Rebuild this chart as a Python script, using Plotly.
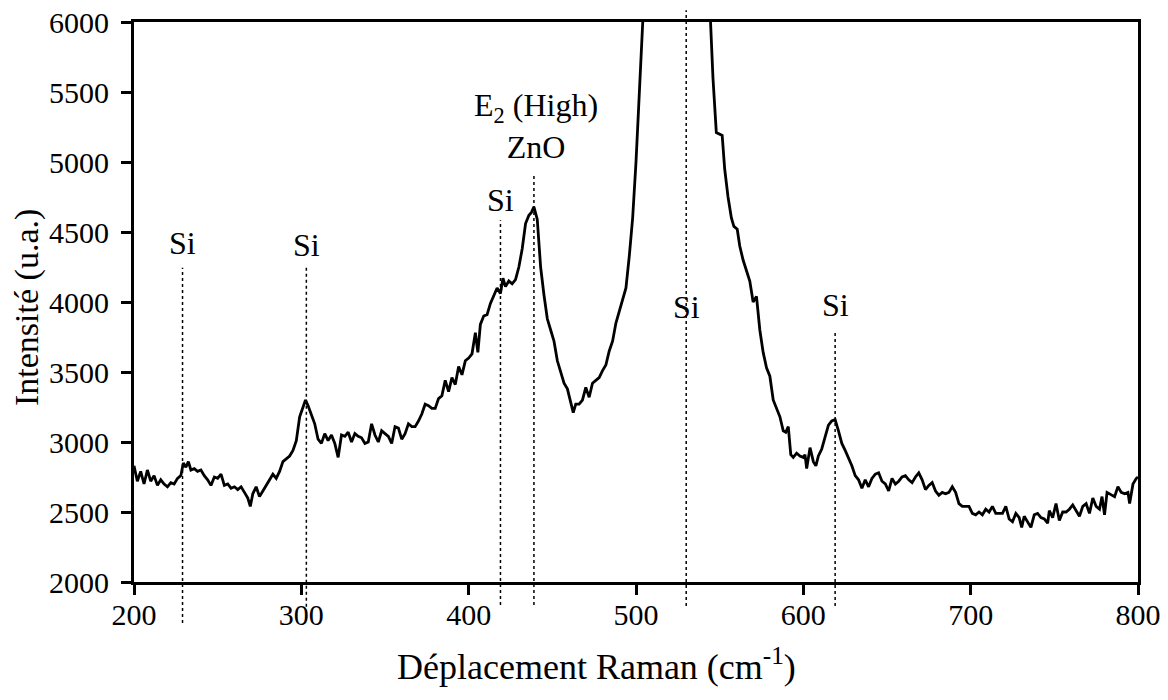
import plotly.graph_objects as go

# Raman spectrum (cm-1, a.u.)
raman_shift = [
    200, 202, 204, 206, 208, 210, 212, 214, 216, 218, 220, 222, 224, 226, 228, 229.5, 231, 232.5, 234, 236,
    238, 240, 242, 244, 246, 248, 250, 252, 254, 256, 258, 260, 262, 264, 266, 268, 269.5, 271, 273, 275,
    277, 279, 281, 283, 285, 287, 289, 291, 293, 295, 297, 299, 301, 302.5, 304, 306, 308, 310, 312, 314,
    316, 318, 320, 322, 324, 326, 328, 330, 332, 334, 336, 338, 340, 342, 344, 346, 348, 350, 352, 354,
    356, 358, 360, 362, 364, 366, 368, 370, 372, 374, 376, 378, 380, 382, 384, 386, 388, 390, 392, 394,
    396, 398, 400, 402, 404, 405.5, 407, 409, 411, 413, 415, 417, 419, 420.5, 422, 424, 426, 428, 430, 432,
    434, 436, 437.5, 439, 441, 443, 445, 447, 449, 451, 453, 455, 457, 459, 461, 462.5, 464, 466, 468, 470,
    472, 474, 476, 478, 480, 482, 484, 486, 488, 490, 492, 494, 496, 498, 500, 501.5, 503, 505, 510, 515,
    520, 525, 530, 535, 540, 544, 546, 548, 550, 551.5, 553, 555, 557, 558.5, 560.5, 562, 564, 566, 568, 570,
    572, 574, 576, 578, 580, 582, 584, 586, 588, 589.5, 591, 592.5, 594, 596, 598, 600, 601, 602, 604, 606,
    607.5, 609, 611, 613, 615, 617, 619, 621, 623, 625, 627, 629, 631, 633, 635, 637, 639, 641, 643, 645,
    647, 649, 651, 653, 655, 657, 659, 661, 663, 665, 667, 669, 671, 673, 675, 677, 679, 681, 683, 685,
    687, 689, 691, 693, 695, 697, 699, 701, 703, 705, 707, 709, 711, 713, 715, 717, 719, 721, 723, 725,
    727, 729, 730.5, 732, 734, 736, 738, 740, 742, 744, 746, 747, 749, 751, 753, 755, 757, 759, 761, 763,
    765, 767, 769, 771, 773, 775, 777, 778.5, 780, 781.5, 784, 786, 788, 790, 792, 794, 795, 797, 799, 800,
]
intensity = [
    2830, 2720, 2790, 2700, 2800, 2720, 2760, 2690, 2730, 2700, 2680, 2710, 2700, 2740, 2760, 2850, 2820, 2860, 2800, 2810,
    2790, 2800, 2760, 2730, 2690, 2750, 2740, 2770, 2690, 2700, 2670, 2680, 2660, 2680, 2640, 2600, 2540, 2630, 2680, 2610,
    2650, 2690, 2720, 2770, 2740, 2790, 2860, 2880, 2900, 2940, 3010, 3180, 3250, 3300, 3260, 3200, 3130, 3020, 2990, 3060,
    3010, 3050, 2990, 2890, 3050, 3040, 3070, 3000, 3060, 3040, 3030, 2990, 3000, 3130, 3050, 3000, 3080, 3060, 3040, 2990,
    3110, 3100, 3020, 3060, 3130, 3110, 3110, 3150, 3200, 3270, 3260, 3240, 3240, 3310, 3330, 3440, 3360, 3460, 3410, 3540,
    3480, 3580, 3600, 3630, 3780, 3640, 3840, 3900, 3910, 3990, 4040, 4100, 4060, 4170, 4110, 4150, 4130, 4160, 4250, 4380,
    4560, 4620, 4640, 4680, 4590, 4250, 4050, 3880, 3800, 3720, 3580, 3500, 3420, 3380, 3280, 3210, 3270, 3270, 3300, 3390,
    3320, 3420, 3440, 3460, 3510, 3550, 3650, 3720, 3850, 3940, 4020, 4100, 4330, 4600, 5000, 5400, 5750, 6200, 8000, 9800,
    11000, 11200, 10000, 8500, 7200, 6150, 5600, 5210, 5200, 5190, 4950, 4750, 4600, 4540, 4520, 4400, 4300, 4230, 4150, 4000,
    4040, 3800, 3640, 3530, 3470, 3300, 3240, 3180, 3080, 3070, 3110, 2910, 2890, 2920, 2900, 2890, 2910, 2810, 2960, 2860,
    2830, 2900, 2950, 3040, 3120, 3150, 3160, 3080, 2990, 2940, 2890, 2830, 2760, 2730, 2670, 2730, 2680, 2740, 2770, 2780,
    2720, 2700, 2650, 2740, 2700, 2720, 2750, 2760, 2730, 2710, 2750, 2780, 2730, 2660, 2690, 2710, 2650, 2620, 2640, 2630,
    2640, 2680, 2640, 2560, 2540, 2540, 2540, 2490, 2480, 2500, 2480, 2520, 2500, 2540, 2490, 2490, 2490, 2540, 2450, 2430,
    2490, 2460, 2390, 2470, 2430, 2390, 2480, 2490, 2460, 2450, 2420, 2510, 2460, 2560, 2440, 2500, 2500, 2520, 2550, 2510,
    2470, 2540, 2560, 2490, 2600, 2540, 2520, 2610, 2480, 2640, 2620, 2610, 2680, 2640, 2630, 2640, 2560, 2700, 2740, 2750,
]

# peak assignments
peak_pos = [229, 303, 419, 439, 530, 619]
peak_labels = ["Si", "Si", "Si", "E<sub>2</sub> (High)<br>ZnO", "Si", "Si"]

FONT = "Liberation Serif, Times New Roman, serif"

fig = go.Figure()

fig.add_trace(go.Scatter(
    x=raman_shift, y=intensity, mode="lines",
    line=dict(color="black", width=2.8),
    showlegend=False, hoverinfo="skip",
))

# dotted marker lines: (top, bottom) in paper units
line_span = [(0.561, -0.073), (0.561, -0.055), (0.646, -0.041), (0.730, -0.041), (1.021, -0.043), (0.450, -0.043)]
# label centre heights in paper units
label_y = [0.605, 0.602, 0.682, 0.814, 0.491, 0.495]

for pos, (top, bottom), lab, ly in zip(peak_pos, line_span, peak_labels, label_y):
    fig.add_shape(
        type="line", xref="x", yref="paper",
        x0=pos, x1=pos, y0=bottom, y1=top,
        line=dict(color="black", width=1.5, dash="dot"),
    )
    fig.add_annotation(
        x=pos + (1.5 if "ZnO" in lab else 0), y=ly, xref="x", yref="paper",
        text=lab, showarrow=False, xanchor="center", yanchor="middle",
        font=dict(family=FONT, size=32, color="black"),
    )

# axis titles as annotations (x title sits a little left of centre in the original)
fig.add_annotation(
    x=0.461, y=-0.148, xref="paper", yref="paper",
    text="Déplacement Raman (cm<sup>-1</sup>)", showarrow=False,
    xanchor="center", yanchor="middle",
    font=dict(family=FONT, size=36, color="black"),
)
fig.add_annotation(
    x=-0.1066, y=0.491, xref="paper", yref="paper",
    text="Intensité (u.a.)", showarrow=False, textangle=-90,
    xanchor="center", yanchor="middle",
    font=dict(family=FONT, size=34, color="black"),
)

# the page body adds an 8 px margin, so the figure is sized to fit inside it
fig.update_layout(
    width=1152, height=680,
    margin=dict(l=126, r=22, t=14, b=106),
    paper_bgcolor="white", plot_bgcolor="white",
    font=dict(family=FONT, size=30, color="black"),
    xaxis=dict(
        range=[200, 800], tickvals=[200, 300, 400, 500, 600, 700, 800],
        ticks="outside", ticklen=10, tickwidth=2.5, tickcolor="black",
        showline=True, linecolor="black", linewidth=3, mirror=True,
        showgrid=False, zeroline=False, ticklabelstandoff=-6,
        ticklabeloverflow="allow", automargin=False,
    ),
    yaxis=dict(
        range=[2000, 6000], tickvals=[2000, 2500, 3000, 3500, 4000, 4500, 5000, 5500, 6000],
        ticks="outside", ticklen=10, tickwidth=2.5, tickcolor="black",
        showline=True, linecolor="black", linewidth=3, mirror=True,
        showgrid=False, zeroline=False, ticklabelstandoff=6,
        ticklabeloverflow="allow", automargin=False,
    ),
)

fig.write_html("out.html")
